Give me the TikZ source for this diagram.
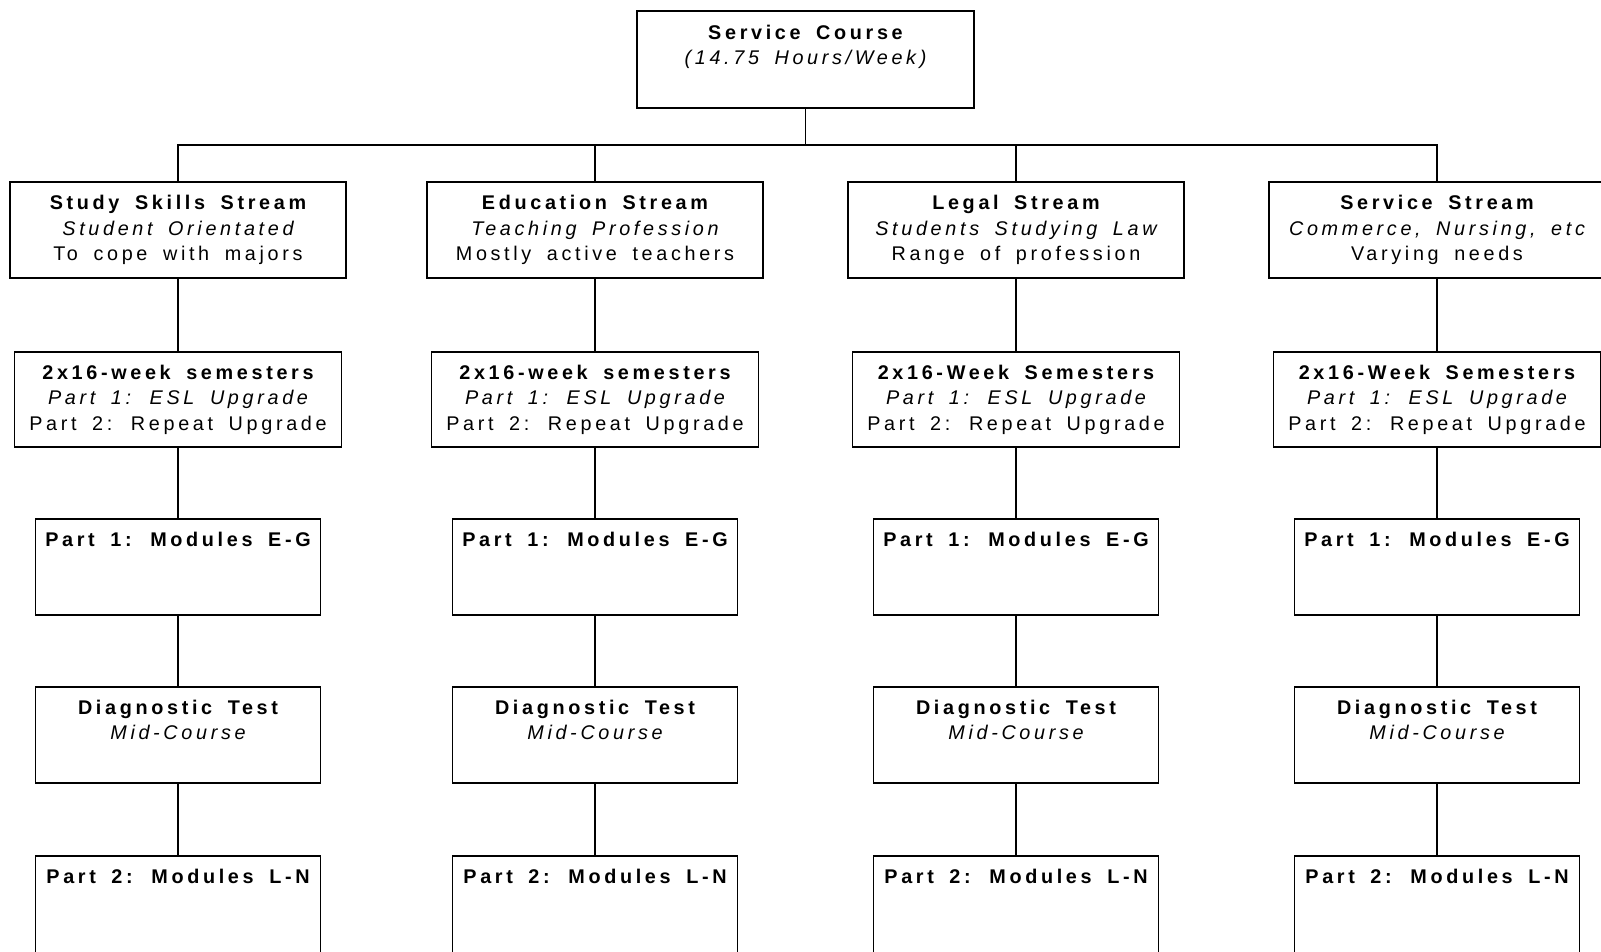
\documentclass[tikz,border=0pt]{standalone}
\usepackage{fontspec}
\setmainfont{Liberation Sans}[LetterSpace=18.5,WordSpace=1.7]
\begin{document}
\begin{tikzpicture}[x=1pt,y=-1pt,
  every node/.style={font=\fontsize{19.8}{25.5}\selectfont},
  box/.style={draw, line width=1.6pt, inner sep=0pt, align=center},
  topbox/.style={box, minimum width=337pt, minimum height=97pt},
  streambox/.style={box, minimum width=336pt, minimum height=96pt},
  sembox/.style={box, minimum width=327pt, minimum height=95pt},
  modbox/.style={box, minimum width=285pt, minimum height=96pt},
  lastbox/.style={box, minimum width=285pt, minimum height=110pt},
  txt/.style={inner sep=0pt, align=center},
  link/.style={line width=1.6pt}]
\useasboundingbox (0,0) rectangle (1601,952);
\clip (0,0) rectangle (1601,952);

% top
\node[topbox] (top) at (805.5,59.5) {};
\node[txt] (topt) at ([yshift=-36.7pt]top.north) {\bfseries Service Course\\\itshape (14.75 Hours/Week)};
\coordinate (bus) at (805.5,145);

% streams
\node[streambox] (s1) at (178,230) {\bfseries Study Skills Stream\\\itshape Student Orientated\\To cope with majors};
\node[streambox] (s2) at (595,230) {\bfseries Education Stream\\\itshape Teaching Profession\\Mostly active teachers};
\node[streambox] (s3) at (1016,230) {\bfseries Legal Stream\\\itshape Students Studying Law\\Range of profession};
\node[streambox] (s4) at (1437,230) {\bfseries Service Stream\\\itshape Commerce, Nursing, etc\\Varying needs};

% semesters
\node[sembox] (m1) at (178,399.5) {\bfseries 2x16-week semesters\\\itshape Part 1: ESL Upgrade\\Part 2: Repeat Upgrade};
\node[sembox] (m2) at (595,399.5) {\bfseries 2x16-week semesters\\\itshape Part 1: ESL Upgrade\\Part 2: Repeat Upgrade};
\node[sembox] (m3) at (1016,399.5) {\bfseries 2x16-Week Semesters\\\itshape Part 1: ESL Upgrade\\Part 2: Repeat Upgrade};
\node[sembox] (m4) at (1437,399.5) {\bfseries 2x16-Week Semesters\\\itshape Part 1: ESL Upgrade\\Part 2: Repeat Upgrade};

% modules, tests
\foreach \i/\x in {1/178,2/595,3/1016,4/1437} {
  \node[modbox] (p\i) at (\x,567) {};
  \node[txt] (pt\i) at ([yshift=-21pt]p\i.north) {\bfseries Part 1: Modules E-G};
  \node[modbox] (d\i) at (\x,735) {};
  \node[txt] (dt\i) at ([yshift=-33.5pt]d\i.north) {\bfseries Diagnostic Test\\\itshape Mid-Course};
  \node[lastbox] (q\i) at (\x,911) {};
  \node[txt] (qt\i) at ([yshift=-21pt]q\i.north) {\bfseries Part 2: Modules L-N};
}

% connectors
\draw[link] (top.south) -- (bus);
\foreach \i in {1,...,4} {
  \draw[link] (s\i.north) |- (bus);
  \draw[link] (s\i.south) -- (m\i.north);
  \draw[link] (m\i.south) -- (p\i.north);
  \draw[link] (p\i.south) -- (d\i.north);
  \draw[link] (d\i.south) -- (q\i.north);
}
\end{tikzpicture}
\end{document}
